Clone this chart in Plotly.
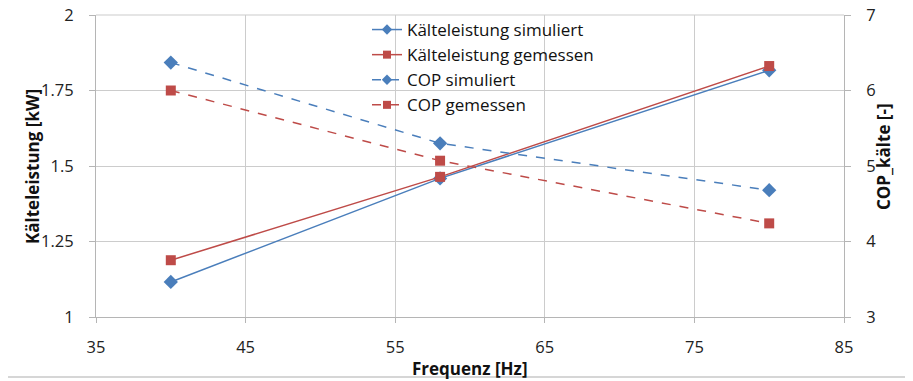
import plotly.graph_objects as go

freq = [40, 58, 80]
kaelte_sim = [1.116, 1.459, 1.817]
kaelte_gem = [1.188, 1.464, 1.831]
cop_sim = [6.37, 5.30, 4.68]
cop_gem = [6.00, 5.07, 4.24]
series_names = ["Kälteleistung simuliert", "Kälteleistung gemessen", "COP simuliert", "COP gemessen"]
y_ticks = [1, 1.25, 1.5, 1.75, 2]
y_ticktext = ["1", "1.25", "1.5", "1.75", "2"]
y2_ticks = [3, 4, 5, 6, 7]
x_ticks = [35, 45, 55, 65, 75, 85]

blue = "#4a7ebb"
red = "#be4b48"
grid = "#cccccc"
axis_c = "#b5b5b5"
font_fam = "Open Sans, Liberation Sans, sans-serif"

# the page body has an 8px margin; the figure is sized to fit inside the window
OFF = 8
W, H = 913 - OFF, 381 - OFF
L, R, T, B = 96 - OFF, 69, 15 - OFF, 64
PW, PH = W - L - R, H - T - B   # 748 x 302, plot area at screen x 96..844, y 15..317


def px(sx):
    return (sx - 96) / PW


def py(sy):
    return (317 - sy) / PH


styles = [
    dict(color=blue, dash="solid", symbol="diamond", yaxis="y"),
    dict(color=red, dash="solid", symbol="square", yaxis="y"),
    dict(color=blue, dash="dash", symbol="diamond", yaxis="y2"),
    dict(color=red, dash="dash", symbol="square", yaxis="y2"),
]
ydata = [kaelte_sim, kaelte_gem, cop_sim, cop_gem]

fig = go.Figure()
for name, ys, st in zip(series_names, ydata, styles):
    fig.add_trace(go.Scatter(x=freq, y=ys, name=name, mode="lines+markers", yaxis=st["yaxis"],
                             showlegend=False, legendgroup=name,
                             line=dict(color=st["color"], width=1.5, dash=st["dash"]),
                             marker=dict(symbol=st["symbol"], size=11 if st["symbol"] == "diamond" else 10,
                                         color=st["color"])))
# legend entries (smaller legend markers, as in the original)
for name, st in zip(series_names, styles):
    fig.add_trace(go.Scatter(x=[None], y=[None], name=name, mode="lines+markers", yaxis=st["yaxis"],
                             legendgroup=name, showlegend=True,
                             line=dict(color=st["color"], width=1.5, dash=st["dash"]),
                             marker=dict(symbol=st["symbol"], size=8, color=st["color"])))

tickfont = dict(family=font_fam, size=16.5, color="#222222")
titlefont = dict(family=font_fam, size=17, color="#111111", weight="bold")

fig.update_layout(
    width=W, height=H,
    margin=dict(l=L, r=R, t=T, b=B, autoexpand=False),
    paper_bgcolor="white", plot_bgcolor="white",
    showlegend=True,
    legend=dict(x=px(367), y=py(12), xanchor="left", yanchor="top",
                bgcolor="rgba(0,0,0,0)",
                font=dict(family=font_fam, size=17, color="#111111"),
                tracegroupgap=0, itemwidth=30),
    xaxis=dict(range=[x_ticks[0], x_ticks[-1]], tickvals=x_ticks, showgrid=True, gridcolor=grid, gridwidth=1,
               showline=True, linecolor=axis_c, ticks="outside", ticklen=5, tickcolor=axis_c,
               tickfont=tickfont, zeroline=False, automargin=False, ticklabelstandoff=10,
               ticklabeloverflow="allow"),
    yaxis=dict(range=[y_ticks[0], y_ticks[-1]], tickvals=y_ticks, ticktext=y_ticktext,
               showgrid=True, gridcolor=grid, gridwidth=1,
               showline=True, linecolor=axis_c, ticks="outside", ticklen=6, tickcolor=axis_c,
               tickfont=tickfont, zeroline=False, automargin=False, ticklabelstandoff=12,
               ticklabeloverflow="allow"),
    yaxis2=dict(range=[y2_ticks[0], y2_ticks[-1]], tickvals=y2_ticks, overlaying="y", side="right", showgrid=False,
                showline=True, linecolor=axis_c, ticks="outside", ticklen=6, tickcolor=axis_c,
                tickfont=tickfont, zeroline=False, automargin=False, ticklabelstandoff=12,
                ticklabeloverflow="allow"),
)

# top gridline (plotly drops the gridline on the plot edge), drawn in paper coordinates
fig.add_shape(type="line", xref="paper", yref="paper", x0=0, x1=1, y0=1, y1=1,
              line=dict(color=grid, width=1.2), layer="above")

# white legend background box covering the gridlines
fig.add_shape(type="rect", xref="paper", yref="paper",
              x0=px(341), x1=px(628), y0=py(111), y1=py(20),
              fillcolor="white", line=dict(width=0), layer="between")

# axis titles
fig.add_annotation(text="Frequenz [Hz]", xref="paper", yref="paper", x=px(470), y=py(368),
                   showarrow=False, font=titlefont, xanchor="center", yanchor="middle")
fig.add_annotation(text="Kälteleistung [kW]", xref="paper", yref="paper", x=px(32), y=py(167),
                   showarrow=False, font=titlefont, textangle=-90, xanchor="center", yanchor="middle")
fig.add_annotation(text="COP_kälte [-]", xref="paper", yref="paper", x=px(883), y=py(157),
                   showarrow=False, font=titlefont, textangle=-90, xanchor="center", yanchor="middle")

# chart border line at the bottom
fig.add_shape(type="line", xref="paper", yref="paper", x0=px(0), x1=px(913), y0=py(377), y1=py(377),
              line=dict(color="#c8c8c8", width=1.5))

fig.write_html("out.html")
